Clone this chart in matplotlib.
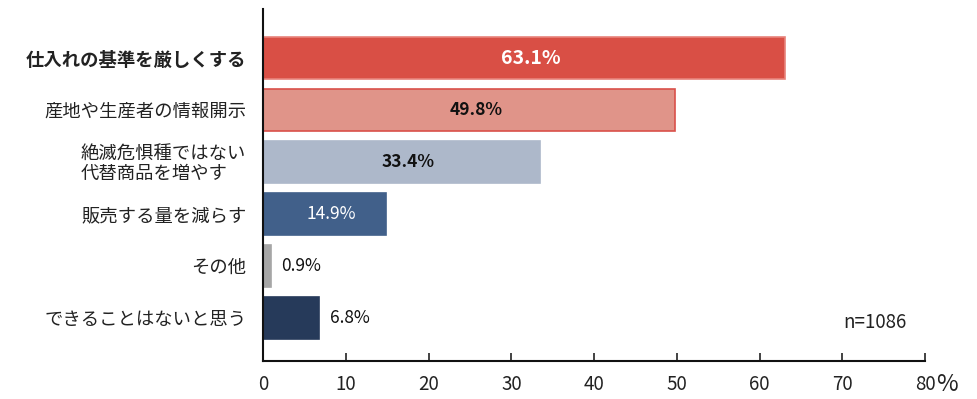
import matplotlib
matplotlib.use("Agg")
import matplotlib.pyplot as plt

plt.rcParams['font.family'] = ['Noto Sans CJK JP', 'DejaVu Sans']

categories = ["仕入れの基準を厳しくする", "産地や生産者の情報開示", "絶滅危惧種ではない\n代替商品を増やす",
              "販売する量を減らす", "その他", "できることはないと思う"]
values = [63.1, 49.8, 33.4, 14.9, 0.9, 6.8]
value_labels = ["63.1%", "49.8%", "33.4%", "14.9%", "0.9%", "6.8%"]
colors = ["#D94F45", "#E09489", "#ADB8CA", "#41608A", "#A6A6A6", "#263A5A"]
edges = ["#E8837B", "#D9504A", "#ADB8CA", "#41608A", "#A6A6A6", "#263A5A"]
xticks = [0, 10, 20, 30, 40, 50, 60, 70, 80]
sample_note = "n=1086"

fig = plt.figure(figsize=(9.78, 3.99), dpi=100)
ax = fig.add_axes([0.269, 0.095, 0.677, 0.882])

pos = list(range(len(categories)))
ax.barh(pos, values, height=0.82, color=colors, edgecolor=edges, linewidth=1.2)
ax.set_ylim(5.83, -0.94)
ax.set_xlim(0, 80)

ax.set_yticks(pos)
ax.set_yticklabels(categories, fontsize=13.2, color="#222222", linespacing=1.1)
ax.get_yticklabels()[0].set_fontweight('bold')
ax.get_yticklabels()[2].set_multialignment('left')
ax.tick_params(axis='y', length=0, pad=12)

ax.set_xticks(xticks)
ax.set_xticklabels([str(t) for t in xticks], fontsize=13.5, color="#222222")
ax.tick_params(axis='x', direction='in', length=6, width=1.2, pad=9, color="#222222")

for s in ['top', 'right']:
    ax.spines[s].set_visible(False)
for s in ['left', 'bottom']:
    ax.spines[s].set_linewidth(1.5)
    ax.spines[s].set_color("#111111")

styles = [
    dict(inside=True, color="white", weight="bold", size=14),
    dict(inside=True, color="#111111", weight="bold", size=12.5),
    dict(inside=True, color="#111111", weight="bold", size=12.5),
    dict(inside=True, color="white", weight="normal", size=12.5),
    dict(inside=False, color="#111111", weight="normal", size=12.5),
    dict(inside=False, color="#111111", weight="normal", size=12.5),
]
for p, v, lab, st in zip(pos, values, value_labels, styles):
    if st["inside"]:
        ax.text(v / 2 + 0.8, p, lab, ha='center', va='center', fontsize=st["size"],
                color=st["color"], fontweight=st["weight"])
    else:
        ax.text(v + 1.3, p, lab, ha='left', va='center', fontsize=st["size"],
                color=st["color"], fontweight=st["weight"])

ax.text(0.972, 0.11, sample_note, transform=ax.transAxes, ha='right', va='center',
        fontsize=13.5, color="#222222")
ax.text(81.3, -0.066, "%", transform=ax.get_xaxis_transform(), ha='left', va='center',
        fontsize=17, color="#222222")

fig.savefig("out.png", dpi=100)
